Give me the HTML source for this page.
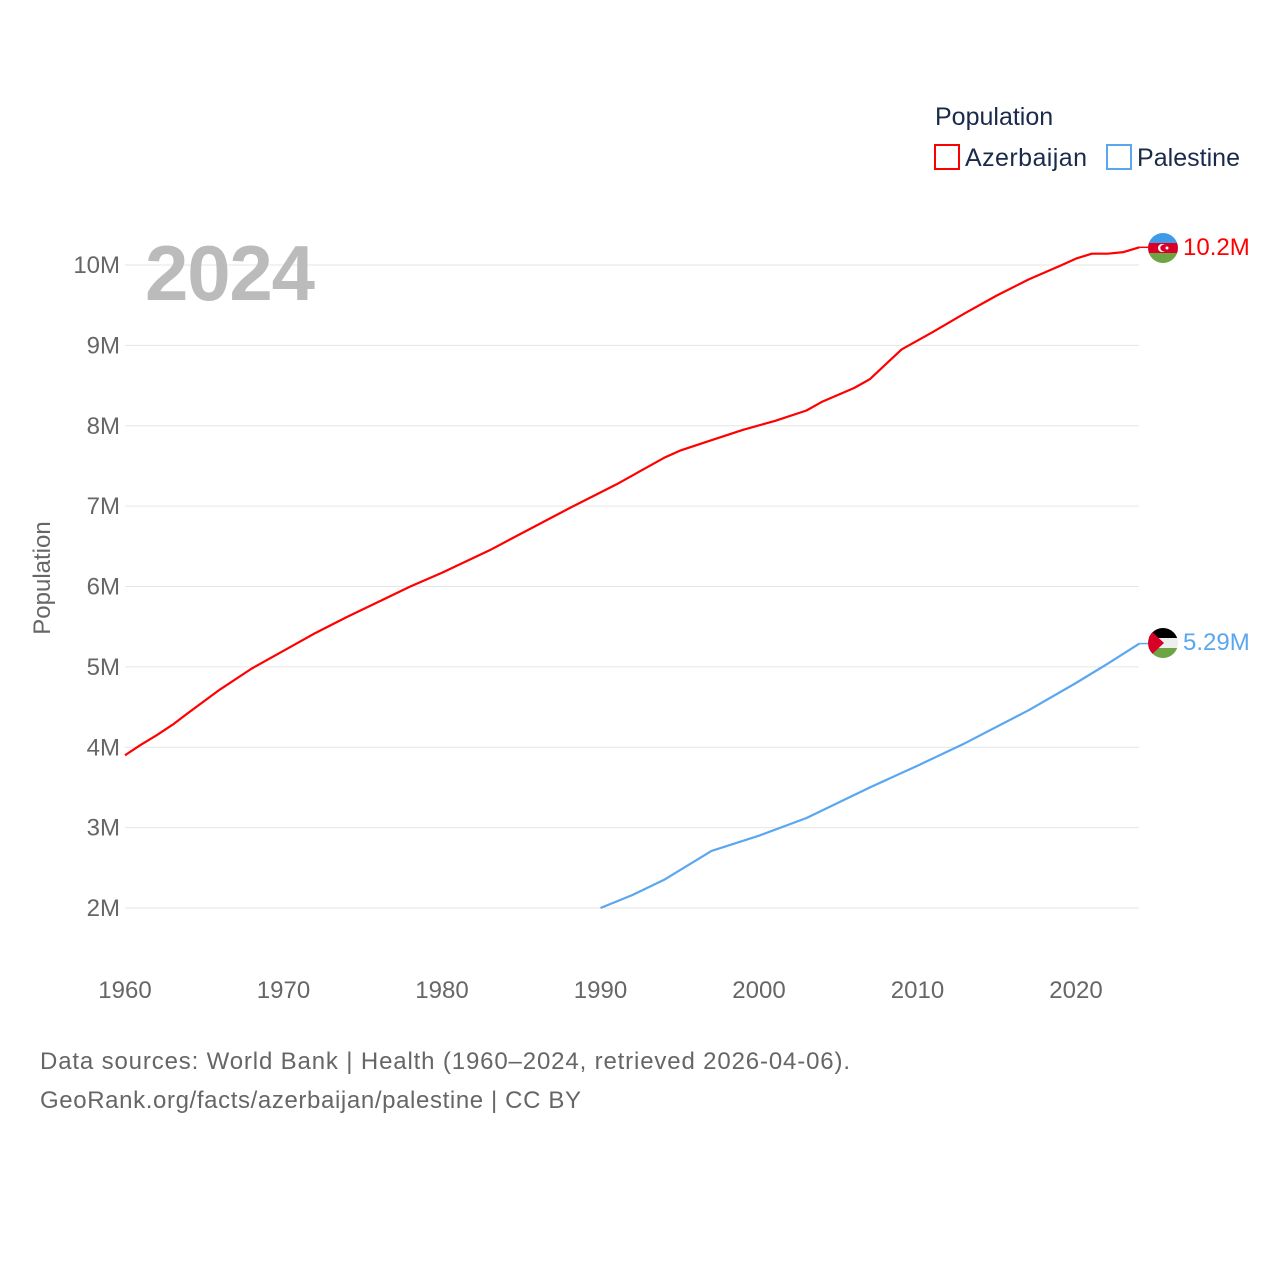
<!DOCTYPE html>
<html><head><meta charset="utf-8"><style>
html,body{margin:0;padding:0;background:#fff;}
body{width:1280px;height:1280px;overflow:hidden;font-family:"Liberation Sans",sans-serif;}
</style></head><body>
<svg id="chart" width="1280" height="1280" xmlns="http://www.w3.org/2000/svg" font-family="Liberation Sans, sans-serif">
<defs>
<clipPath id="c1"><circle cx="1163" cy="248" r="15"/></clipPath>
<clipPath id="c2"><circle cx="1163" cy="643" r="15"/></clipPath>
</defs>
<g id="grid"></g>
<g id="yaxis"></g>
<g id="xaxis"></g>
<text x="50" y="578" transform="rotate(-90 50 578)" text-anchor="middle" font-size="24" fill="#666">Population</text>
<text x="145" y="300" font-size="78" font-weight="bold" fill="#bbb" textLength="170">2024</text>
<g id="series"></g>
<g clip-path="url(#c1)">
<rect x="1148" y="233" width="30" height="10" fill="#3f9be8"/>
<rect x="1148" y="243" width="30" height="10" fill="#d80027"/>
<rect x="1148" y="253" width="30" height="10" fill="#6da544"/>
<circle cx="1162" cy="248" r="4" fill="#fff"/><circle cx="1163.5" cy="248" r="3.2" fill="#d80027"/>
<circle cx="1167" cy="248" r="1.5" fill="#fff"/>
</g>
<g clip-path="url(#c2)">
<rect x="1148" y="628" width="30" height="10" fill="#000"/>
<rect x="1148" y="638" width="30" height="10" fill="#eee"/>
<rect x="1148" y="648" width="30" height="10" fill="#6da544"/>
<polygon points="1148,628 1164,643 1148,658" fill="#d80027"/>
</g>
<text x="1183" y="255" font-size="24" fill="#ff0000">10.2M</text>
<text x="1183" y="650" font-size="24" fill="#5aa7ef">5.29M</text>
<g>
<text x="935" y="125" font-size="25" fill="#1a2a4a">Population</text>
<g>
<rect x="935" y="145" width="24" height="24" fill="none" stroke="#ff0000" stroke-width="2"/>
<text x="965" y="166" font-size="25" fill="#1a2a4a" textLength="122">Azerbaijan</text></g>
<g>
<rect x="1107" y="145" width="24" height="24" fill="none" stroke="#5aa7ef" stroke-width="2"/>
<text x="1137" y="166" font-size="25" fill="#1a2a4a" textLength="103">Palestine</text></g>
</g>
<text x="40" y="1069" font-size="24" fill="#666" textLength="810">Data sources: World Bank | Health (1960–2024, retrieved 2026-04-06).</text>
<text x="40" y="1108" font-size="24" fill="#666" textLength="541">GeoRank.org/facts/azerbaijan/palestine | CC BY</text>
</svg>
<script>
const yTicks=[2,3,4,5,6,7,8,9,10];
const yTickLabels=["2M","3M","4M","5M","6M","7M","8M","9M","10M"];
const xTicks=[1960,1970,1980,1990,2000,2010,2020];
const azYears=[1960,1961,1962,1963,1964,1966,1968,1970,1972,1974,1976,1978,1980,1983,1985,1988,1991,1994,1995,1997,1999,2001,2003,2004,2006,2007,2009,2011,2013,2015,2017,2019,2020,2021,2022,2023,2024];
const azValues=[3.90,4.03,4.15,4.28,4.43,4.72,4.98,5.20,5.42,5.62,5.81,6.00,6.17,6.45,6.66,6.97,7.27,7.60,7.69,7.82,7.95,8.06,8.19,8.30,8.47,8.58,8.95,9.17,9.40,9.62,9.82,9.99,10.08,10.14,10.14,10.16,10.22];
const psYears=[1990,1992,1994,1997,2000,2003,2007,2010,2013,2017,2020,2022,2024];
const psValues=[2.00,2.16,2.35,2.71,2.90,3.12,3.50,3.77,4.05,4.46,4.80,5.04,5.29];
const NS="http://www.w3.org/2000/svg";
const X=y=>125+(y-1960)*(1076-125)/60;
const Y=v=>908-(v-2)*(908-265)/8;
function mk(t,a,p){const e=document.createElementNS(NS,t);for(const k in a)e.setAttribute(k,a[k]);p.appendChild(e);return e;}
const grid=document.getElementById('grid'),ya=document.getElementById('yaxis'),xa=document.getElementById('xaxis'),se=document.getElementById('series');
yTicks.forEach((v,i)=>{
 const l=mk('line',{x1:125,x2:1139,y1:Y(v),y2:Y(v),stroke:'#e6e6e6','stroke-width':1},grid);
 
 
 const t=mk('text',{x:120,y:Y(v)+8,'text-anchor':'end','font-size':24,fill:'#666'},ya);
 t.textContent=yTickLabels[i];
 
 
});
xTicks.forEach(v=>{
 const t=mk('text',{x:X(v),y:998,'text-anchor':'middle','font-size':24,fill:'#666'},xa);
 t.textContent=v;
 
 
});
function line(ys,vs,col,name){
 const d=ys.map((y,i)=>(i?'L':'M')+X(y).toFixed(1)+','+Y(vs[i]).toFixed(1)).join('');
 const p=mk('path',{d:d,fill:'none',stroke:col,'stroke-width':2.2,'stroke-linejoin':'round'},se);
 
 
 const last=vs[vs.length-1],lx=X(ys[ys.length-1]);
 const c=mk('line',{x1:lx,x2:lx+9,y1:Y(last),y2:Y(last),stroke:col,'stroke-width':1.5},se);
 
 
}
line(azYears,azValues,'#ff0000','azerbaijan-line');
line(psYears,psValues,'#5aa7ef','palestine-line');
</script>
</body></html>
